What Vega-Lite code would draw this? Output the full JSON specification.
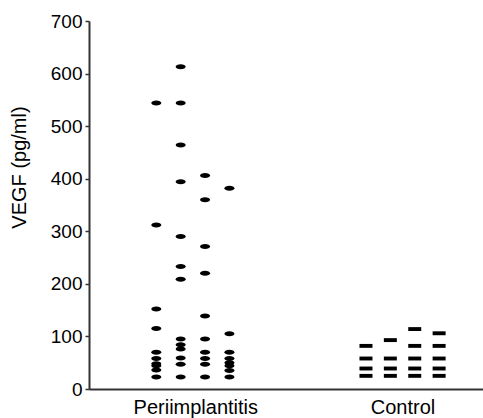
{
  "$schema": "https://vega.github.io/schema/vega-lite/v6.json",
  "width": 394,
  "height": 368,
  "autosize": "none",
  "padding": {"left": 89, "top": 21, "right": 0, "bottom": 29},
  "background": "white",
  "config": {"view": {"stroke": null}, "font": "Liberation Sans", "axis": {"grid": false}},
  "data": {"values": [
    {"group": "Periimplantitis", "col": 1, "value": 544},
    {"group": "Periimplantitis", "col": 1, "value": 312},
    {"group": "Periimplantitis", "col": 1, "value": 152},
    {"group": "Periimplantitis", "col": 1, "value": 115},
    {"group": "Periimplantitis", "col": 1, "value": 70},
    {"group": "Periimplantitis", "col": 1, "value": 58},
    {"group": "Periimplantitis", "col": 1, "value": 48},
    {"group": "Periimplantitis", "col": 1, "value": 44},
    {"group": "Periimplantitis", "col": 1, "value": 36},
    {"group": "Periimplantitis", "col": 1, "value": 23},
    {"group": "Periimplantitis", "col": 2, "value": 613},
    {"group": "Periimplantitis", "col": 2, "value": 544},
    {"group": "Periimplantitis", "col": 2, "value": 464},
    {"group": "Periimplantitis", "col": 2, "value": 394},
    {"group": "Periimplantitis", "col": 2, "value": 290},
    {"group": "Periimplantitis", "col": 2, "value": 233},
    {"group": "Periimplantitis", "col": 2, "value": 209},
    {"group": "Periimplantitis", "col": 2, "value": 95},
    {"group": "Periimplantitis", "col": 2, "value": 84},
    {"group": "Periimplantitis", "col": 2, "value": 76},
    {"group": "Periimplantitis", "col": 2, "value": 59},
    {"group": "Periimplantitis", "col": 2, "value": 47},
    {"group": "Periimplantitis", "col": 2, "value": 23},
    {"group": "Periimplantitis", "col": 3, "value": 406},
    {"group": "Periimplantitis", "col": 3, "value": 360},
    {"group": "Periimplantitis", "col": 3, "value": 271},
    {"group": "Periimplantitis", "col": 3, "value": 220},
    {"group": "Periimplantitis", "col": 3, "value": 139},
    {"group": "Periimplantitis", "col": 3, "value": 95},
    {"group": "Periimplantitis", "col": 3, "value": 70},
    {"group": "Periimplantitis", "col": 3, "value": 58},
    {"group": "Periimplantitis", "col": 3, "value": 47},
    {"group": "Periimplantitis", "col": 3, "value": 23},
    {"group": "Periimplantitis", "col": 4, "value": 382},
    {"group": "Periimplantitis", "col": 4, "value": 105},
    {"group": "Periimplantitis", "col": 4, "value": 70},
    {"group": "Periimplantitis", "col": 4, "value": 58},
    {"group": "Periimplantitis", "col": 4, "value": 50},
    {"group": "Periimplantitis", "col": 4, "value": 44},
    {"group": "Periimplantitis", "col": 4, "value": 35},
    {"group": "Periimplantitis", "col": 4, "value": 23},
    {"group": "Control", "col": 9.6, "value": 82},
    {"group": "Control", "col": 9.6, "value": 58},
    {"group": "Control", "col": 9.6, "value": 39},
    {"group": "Control", "col": 9.6, "value": 25},
    {"group": "Control", "col": 10.6, "value": 93},
    {"group": "Control", "col": 10.6, "value": 58},
    {"group": "Control", "col": 10.6, "value": 39},
    {"group": "Control", "col": 10.6, "value": 25},
    {"group": "Control", "col": 11.6, "value": 114},
    {"group": "Control", "col": 11.6, "value": 82},
    {"group": "Control", "col": 11.6, "value": 58},
    {"group": "Control", "col": 11.6, "value": 39},
    {"group": "Control", "col": 11.6, "value": 25},
    {"group": "Control", "col": 12.6, "value": 106},
    {"group": "Control", "col": 12.6, "value": 82},
    {"group": "Control", "col": 12.6, "value": 58},
    {"group": "Control", "col": 12.6, "value": 39},
    {"group": "Control", "col": 12.6, "value": 25}
  ]},
  "encoding": {
    "x": {
      "field": "col", "type": "quantitative",
      "scale": {"domain": [-1.76, 14.4], "nice": false, "zero": false},
      "axis": {
        "values": [2.6, 11.1],
        "labelExpr": "datum.value < 6 ? 'Periimplantitis' : 'Control'",
        "ticks": false, "title": null,
        "domainColor": "#333", "domainWidth": 2,
        "labelFontSize": 20, "labelColor": "black", "labelPadding": 8,
        "labelFlush": false, "labelOverlap": false
      }
    },
    "y": {
      "field": "value", "type": "quantitative",
      "scale": {"domain": [0, 700], "nice": false},
      "axis": {
        "values": [0, 100, 200, 300, 400, 500, 600, 700],
        "tickSize": 4, "tickColor": "#333", "tickWidth": 1.5,
        "domainColor": "#333", "domainWidth": 2,
        "labelFontSize": 19, "labelColor": "black", "labelPadding": 3,
        "title": "VEGF (pg/ml)", "titleFontSize": 20, "titleFontWeight": "normal",
        "titleColor": "black", "titleX": -64, "titleY": 146, "titleAngle": -90,
        "titleBaseline": "alphabetic", "titleAlign": "center"
      }
    }
  },
  "layer": [
    {
      "transform": [{"filter": "datum.group === 'Periimplantitis'"}],
      "mark": {"type": "point", "filled": true, "color": "black", "opacity": 1,
               "shape": "M-1,0A1,0.5,0,1,0,1,0A1,0.5,0,1,0,-1,0Z", "size": 100}
    },
    {
      "transform": [{"filter": "datum.group === 'Control'"}],
      "mark": {"type": "point", "filled": true, "color": "black", "opacity": 1,
               "shape": "M-1,-0.3H1V0.3H-1Z", "size": 169}
    }
  ]
}
